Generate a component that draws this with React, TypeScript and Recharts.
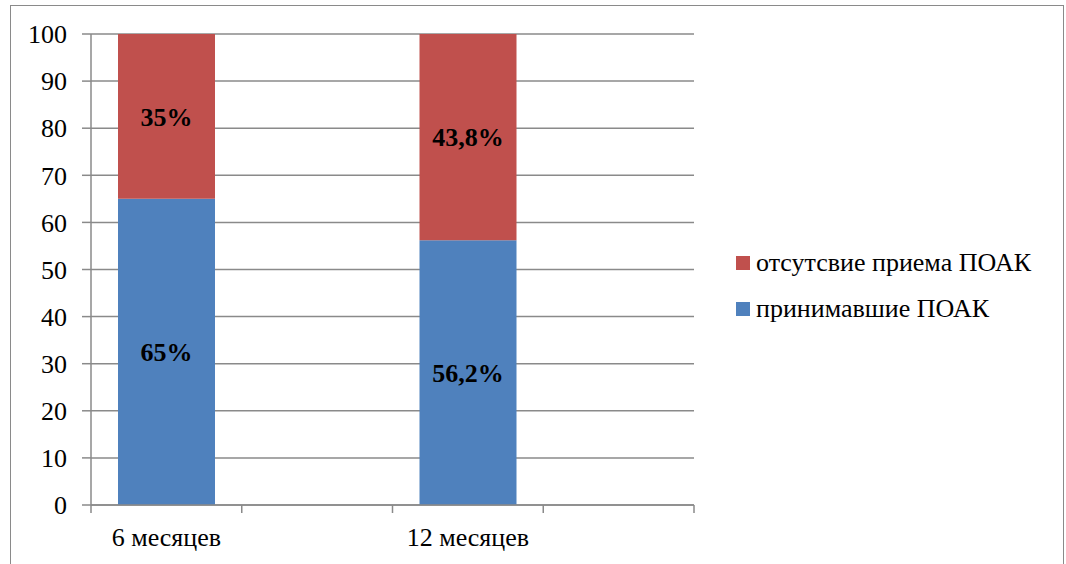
import { BarChart, Bar, XAxis, YAxis, CartesianGrid, LabelList } from 'recharts'

const categories = ['6 месяцев', '', '12 месяцев', '']
const takingValues = [65, null, 56.2, null]
const notTakingValues = [35, null, 43.8, null]
const yTicks = [0, 10, 20, 30, 40, 50, 60, 70, 80, 90, 100]

const series = [
  { key: 'taking', name: 'принимавшие ПОАК', color: '#4F81BD' },
  { key: 'notTaking', name: 'отсутсвие приема ПОАК', color: '#C0504D' },
]

const data = categories.map((name, i) => ({
  name,
  taking: takingValues[i],
  notTaking: notTakingValues[i],
}))

const FONT = 'Liberation Serif'
const GRID = '#8a8a8a'
const LABEL_GAP = 23 // distance from the axis line to the top of the category label
const MARK = 8

const fmt = (v: any) => (v == null || v === '' ? '' : `${String(v).replace('.', ',')}%`)

// category label at the band centre, small tick marks on the band edges
function CategoryTick(props: any) {
  const { x, y, payload, width, visibleTicksCount, index } = props
  const half = payload?.offset ? payload.offset : width / visibleTicksCount / 2
  const axisY = y - LABEL_GAP
  return (
    <g>
      <line x1={x - half} x2={x - half} y1={axisY} y2={axisY + MARK} stroke={GRID} strokeWidth={1.5} />
      {index === visibleTicksCount - 1 && (
        <line x1={x + half} x2={x + half} y1={axisY} y2={axisY + MARK} stroke={GRID} strokeWidth={1.5} />
      )}
      <text x={x} y={y} dy="0.71em" textAnchor="middle" fill="#000" fontFamily={FONT} fontSize={26}>
        {payload.value}
      </text>
    </g>
  )
}

export default function App() {
  return (
    <div style={{ position: 'fixed', left: 0, top: 0, width: 1066, height: 564, overflow: 'hidden', background: '#fff' }}>
      <div
        style={{
          position: 'absolute',
          left: 10,
          top: 5,
          width: 1052,
          height: 620,
          border: `1px solid ${GRID}`,
        }}
      />
      <div style={{ position: 'absolute', left: 0, top: 0 }}>
        <BarChart width={1066} height={564} data={data} margin={{ top: 34, right: 372, bottom: 0, left: 0 }}>
          <CartesianGrid horizontal vertical={false} stroke={GRID} strokeWidth={1.5} />
          <XAxis
            dataKey="name"
            height={59}
            interval={0}
            tickLine={false}
            tickSize={0}
            tickMargin={LABEL_GAP}
            stroke={GRID}
            strokeWidth={1.5}
            tick={<CategoryTick />}
          />
          <YAxis
            width={91}
            domain={[0, 100]}
            ticks={yTicks}
            interval={0}
            tickSize={9}
            tickMargin={15}
            stroke={GRID}
            strokeWidth={1.5}
            tick={{ fill: '#000', fontFamily: FONT, fontSize: 26 }}
          />
          {series.map((s) => (
            <Bar
              key={s.key}
              dataKey={s.key}
              name={s.name}
              stackId="a"
              fill={s.color}
              barSize={97}
              isAnimationActive={false}
            >
              <LabelList
                dataKey={s.key}
                position="center"
                formatter={fmt}
                style={{ fill: '#000', fontFamily: FONT, fontSize: 26, fontWeight: 'bold' }}
              />
            </Bar>
          ))}
        </BarChart>
      </div>
      <div style={{ position: 'absolute', left: 736, top: 240, fontFamily: FONT, fontSize: 26, color: '#000' }}>
        {[...series].reverse().map((s) => (
          <div key={s.key} style={{ display: 'flex', alignItems: 'center', height: 46 }}>
            <span style={{ width: 14, height: 14, background: s.color, marginRight: 6, display: 'inline-block' }} />
            <span>{s.name}</span>
          </div>
        ))}
      </div>
    </div>
  )
}
